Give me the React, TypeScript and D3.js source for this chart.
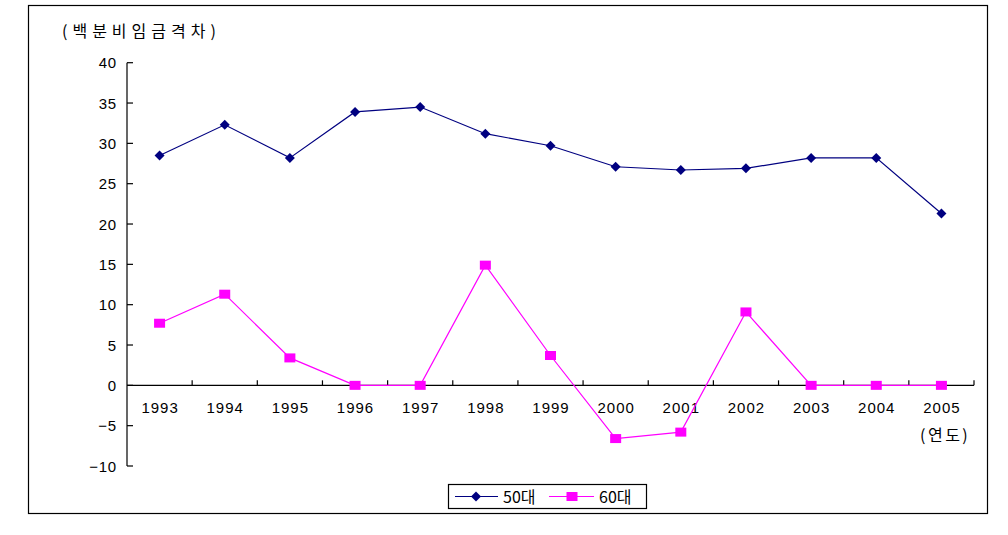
import React from "react";
import * as d3 from "d3";

const years = ["1993","1994","1995","1996","1997","1998","1999","2000","2001","2002","2003","2004","2005"];
const s50 = [28.5, 32.3, 28.2, 33.9, 34.5, 31.2, 29.7, 27.1, 26.7, 26.9, 28.2, 28.2, 21.3];
const s60 = [7.7, 11.3, 3.4, 0, 0, 14.9, 3.7, -6.6, -5.8, 9.1, 0, 0, 0];
const yTicks = [40, 35, 30, 25, 20, 15, 10, 5, 0, -5, -10];
const seriesNames = ["50대", "60대"];
const yTitle = "(백분비임금격차)";
const xTitle = "(연도)";

const NAVY = "#000080";
const MAG = "#FF00FF";
const numFont = "'Liberation Sans', Arial, sans-serif";
const krFont = "'Noto Sans CJK KR', sans-serif";

export default function App() {
  const x = d3.scaleBand<string>().domain(years).range([127, 974]);
  const y = d3.scaleLinear().domain([-10, 40]).range([466, 62.7]);
  const cx = (d: string) => (x(d) ?? 0) + x.bandwidth() / 2;
  const line = d3.line<number>().x((_, i) => cx(years[i])).y((v) => y(v));
  const boundaries = years.map((d) => (x(d) ?? 0) + x.bandwidth());
  const diamond = (px: number, py: number, r: number) =>
    `M${px},${py - r}L${px + r},${py}L${px},${py + r}L${px - r},${py}Z`;

  return (
    <svg width={1008} height={535} style={{ position: "absolute", left: 0, top: 0, background: "#fff" }}>
      <rect x={28.5} y={5.5} width={959} height={508} fill="none" stroke="#000" strokeWidth={1.2} />
      <text x={62} y={37} fontFamily={krFont} fontSize={16} letterSpacing={5} fill="#000">{yTitle}</text>
      {/* y axis */}
      <line x1={127} x2={127} y1={y(40)} y2={y(-10)} stroke="#000" strokeWidth={1.2} />
      {yTicks.map((t) => (
        <g key={t}>
          <line x1={127} x2={133} y1={y(t)} y2={y(t)} stroke="#000" strokeWidth={1.2} />
          <text x={117} y={y(t) + 5.5} textAnchor="end" fontFamily={numFont} fontSize={15} letterSpacing={0.8} fill="#000">
            {t < 0 ? "\u2212" + Math.abs(t) : t}
          </text>
        </g>
      ))}
      {/* x axis */}
      <line x1={127} x2={974} y1={y(0)} y2={y(0)} stroke="#000" strokeWidth={1.2} />
      {boundaries.map((b, i) => (
        <line key={i} x1={b} x2={b} y1={y(0)} y2={y(0) - 5} stroke="#000" strokeWidth={1.2} />
      ))}
      {years.map((d) => (
        <text key={d} x={cx(d) + 0.5} y={y(0) + 28} textAnchor="middle" fontFamily={numFont} fontSize={15} letterSpacing={1} fill="#000">{d}</text>
      ))}
      <text x={920} y={441} fontFamily={krFont} fontSize={16} letterSpacing={2.5} fill="#000">{xTitle}</text>
      {/* series */}
      <path d={line(s50) ?? ""} fill="none" stroke={NAVY} strokeWidth={1.2} />
      <path d={line(s60) ?? ""} fill="none" stroke={MAG} strokeWidth={1.2} />
      {s50.map((v, i) => (
        <path key={i} d={diamond(cx(years[i]), y(v), 5)} fill={NAVY} />
      ))}
      {s60.map((v, i) => (
        <rect key={i} x={cx(years[i]) - 5.5} y={y(v) - 4.5} width={11} height={9} fill={MAG} />
      ))}
      {/* legend */}
      <rect x={448.5} y={484.5} width={198} height={24} fill="#fff" stroke="#000" strokeWidth={1.2} />
      <line x1={455} x2={498} y1={496.5} y2={496.5} stroke={NAVY} strokeWidth={1.2} />
      <path d={diamond(476, 496.5, 5)} fill={NAVY} />
      <text x={503} y={502.5} fontFamily={krFont} fontSize={16} fill="#000">{seriesNames[0]}</text>
      <line x1={549} x2={594} y1={496.5} y2={496.5} stroke={MAG} strokeWidth={1.2} />
      <rect x={566.5} y={492} width={11} height={9} fill={MAG} />
      <text x={599} y={502.5} fontFamily={krFont} fontSize={16} fill="#000">{seriesNames[1]}</text>
    </svg>
  );
}
